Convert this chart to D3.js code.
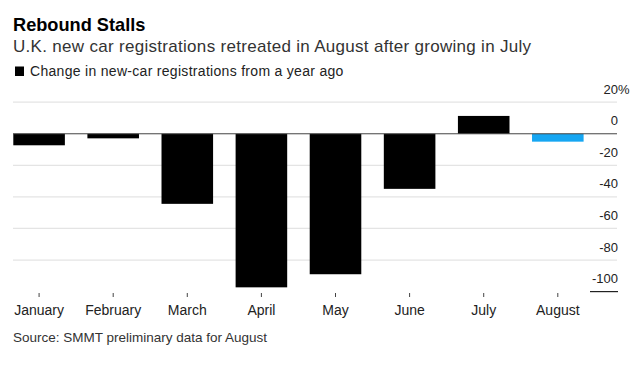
<!DOCTYPE html>
<html>
<head>
<meta charset="utf-8">
<script src="https://cdn.jsdelivr.net/npm/d3@7"></script>
<style>
  body { margin: 0; background: #fff; }
  text { font-family: 'Liberation Sans', Arial, sans-serif; }
</style>
</head>
<body>
<div id="chart"></div>
<script>
let months = ['January', 'February', 'March', 'April', 'May', 'June', 'July', 'August']
let change = [-7.3, -2.9, -44.4, -97.3, -89.0, -34.9, 11.3, -5.0]
let yTicks = [20, 0, -20, -40, -60, -80, -100]

let width = 642
let height = 370

let svg = d3.select('#chart').append('svg')
  .attr('width', width)
  .attr('height', height)

let x = d3.scaleBand()
  .domain(months)
  .range([13.3, 583.6])
  .paddingInner(0.304)
  .paddingOuter(0)

let y = d3.scaleLinear()
  .domain([-100, 20])
  .range([291.6, 102.2])

// titles
svg.append('text')
  .attr('x', 13).attr('y', 30.5)
  .attr('font-size', 18.2).attr('font-weight', 'bold')
  .attr('fill', '#000')
  .text('Rebound Stalls')

svg.append('text')
  .attr('x', 13).attr('y', 52.3)
  .attr('font-size', 17)
  .attr('letter-spacing', 0.3)
  .attr('fill', '#333')
  .text('U.K. new car registrations retreated in August after growing in July')

svg.append('rect')
  .attr('x', 15).attr('y', 66.5)
  .attr('width', 9).attr('height', 9.5)
  .attr('fill', '#000')

svg.append('text')
  .attr('x', 30).attr('y', 76)
  .attr('font-size', 14)
  .attr('letter-spacing', 0.3)
  .attr('fill', '#222')
  .text('Change in new-car registrations from a year ago')

// gridlines
svg.selectAll('.grid')
  .data(yTicks.filter(d => d !== 0 && d !== -100))
  .enter().append('line')
  .attr('class', 'grid')
  .attr('x1', 13).attr('x2', 617)
  .attr('y1', d => y(d)).attr('y2', d => y(d))
  .attr('stroke', '#e4e4e4')
  .attr('stroke-width', 1.2)

// bars
svg.selectAll('.bar')
  .data(months)
  .enter().append('rect')
  .attr('class', 'bar')
  .attr('x', d => x(d))
  .attr('width', x.bandwidth())
  .attr('y', (d, i) => y(Math.max(0, change[i])))
  .attr('height', (d, i) => Math.abs(y(change[i]) - y(0)))
  .attr('fill', (d, i) => d === 'August' ? '#16a6f2' : '#000')

// zero line
svg.append('line')
  .attr('x1', 13).attr('x2', 617)
  .attr('y1', y(0)).attr('y2', y(0))
  .attr('stroke', '#444')
  .attr('stroke-width', 1)

// short bottom rule under -100
svg.append('line')
  .attr('x1', 590).attr('x2', 618)
  .attr('y1', y(-100)).attr('y2', y(-100))
  .attr('stroke', '#222')
  .attr('stroke-width', 1.2)

// y axis labels
let yAxis = svg.append('g')
  .attr('transform', 'translate(618,0)')
  .call(d3.axisLeft(y).tickValues(yTicks).tickSize(0).tickPadding(0)
    .tickFormat(d => d))
yAxis.select('.domain').remove()
yAxis.selectAll('text')
  .attr('font-family', "'Liberation Sans', Arial, sans-serif")
  .attr('font-size', 13)
  .attr('fill', '#222')
  .attr('dy', -9)
yAxis.selectAll('.tick')
  .filter(d => d === 20)
  .append('text')
  .attr('x', 0).attr('dy', -9)
  .attr('text-anchor', 'start')
  .attr('font-size', 13)
  .attr('fill', '#222')
  .text('%')

// x axis
let xAxis = svg.append('g')
  .attr('transform', 'translate(0,293)')
  .call(d3.axisBottom(x).tickSize(4).tickPadding(8))
xAxis.select('.domain').remove()
xAxis.selectAll('line').attr('stroke', '#444')
xAxis.selectAll('text')
  .attr('font-family', "'Liberation Sans', Arial, sans-serif")
  .attr('font-size', 14)
  .attr('fill', '#222')

svg.append('text')
  .attr('x', 13).attr('y', 342)
  .attr('font-size', 13.5)
  .attr('fill', '#333')
  .text('Source: SMMT preliminary data for August')
</script>
</body>
</html>
